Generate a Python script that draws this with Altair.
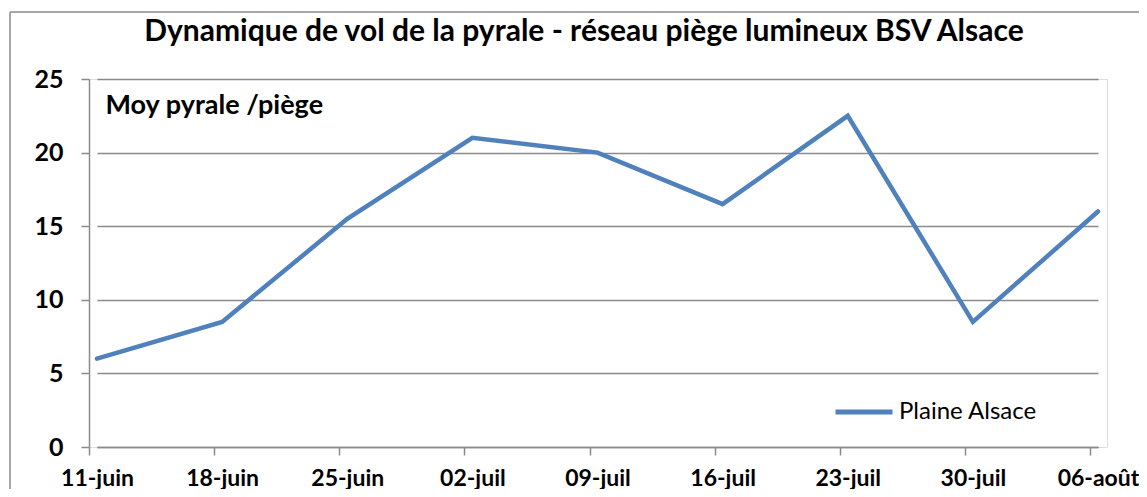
import altair as alt
import pandas as pd

dates = ["11-juin", "18-juin", "25-juin", "02-juil", "09-juil", "16-juil", "23-juil", "30-juil", "06-août"]
values = [6, 8.5, 15.5, 21, 20, 16.5, 22.5, 8.5, 16]
series_name = "Plaine Alsace"
y_ticks = [0, 5, 10, 15, 20, 25]
title_text = "Dynamique de vol de la pyrale - réseau piège lumineux BSV Alsace"
y_title = "Moy pyrale /piège"

df = pd.DataFrame({"date": dates, "value": values, "series": [series_name] * len(dates)})

W, H = 1018, 368
GRID = "#8a8a8a"
LINE = "#4F81BD"
FONT = "Lato"

frame_df = pd.DataFrame({"a": [0]})
border_top = alt.Chart(frame_df).mark_rule(color="#8a8a8a", strokeWidth=1.5, clip=False).encode(
    x=alt.value(-79), x2=alt.value(1100), y=alt.value(-67)
)
border_left = alt.Chart(frame_df).mark_rule(color="#8a8a8a", strokeWidth=1.5, clip=False).encode(
    x=alt.value(-79), y=alt.value(-67), y2=alt.value(500)
)

line = alt.Chart(df).mark_line(strokeWidth=4.5, strokeCap="round", strokeJoin="miter").encode(
    x=alt.X(
        "date:N", sort=dates,
        scale=alt.Scale(type="point", range=[8, 1009], padding=0),
        axis=alt.Axis(
            title=None, labelAngle=0, grid=False,
            domain=True, domainColor=GRID, domainWidth=1.5,
            ticks=True, tickColor=GRID, tickWidth=1.5, tickSize=8, tickOffset=-8,
            labelOffset=8, labelFont=FONT, labelFontSize=23, labelFontWeight="bold",
            labelColor="black", labelBaseline="alphabetic", labelPadding=30,
        ),
    ),
    y=alt.Y(
        "value:Q",
        scale=alt.Scale(domain=[0, 25], nice=False),
        axis=alt.Axis(
            values=y_ticks, grid=True, gridColor=GRID, gridWidth=1.5,
            domain=True, domainColor=GRID, domainWidth=1.5,
            ticks=True, tickColor=GRID, tickWidth=1.5, tickSize=8,
            labelFont=FONT, labelFontSize=25, labelFontWeight="bold",
            labelColor="black", labelPadding=18, labelAlign="right",
            title=y_title, titleAngle=0, titleAlign="left", titleBaseline="alphabetic",
            titleX=16, titleY=34, titleFont=FONT, titleFontSize=27,
            titleFontWeight="bold", titleColor="black",
        ),
    ),
    color=alt.Color(
        "series:N",
        scale=alt.Scale(range=[LINE]),
        legend=alt.Legend(
            title=None, orient="none", legendX=744, legendY=302,
            symbolType="stroke", symbolStrokeWidth=5, symbolSize=3249,
            labelFont=FONT, labelFontSize=24, labelColor="black", labelOffset=4,
            padding=0,
        ),
    ),
)

chart = alt.layer(border_top, border_left, line).properties(
    width=W, height=H,
    padding={"left": 81, "top": 71, "right": 32, "bottom": 42},
    autosize=alt.AutoSizeParams(type="none"),
    title=alt.TitleParams(
        text=title_text, font=FONT, fontSize=30, fontWeight="bold", color="black",
        anchor="middle", dx=-14, offset=-60, baseline="alphabetic",
    ),
).configure_view(strokeWidth=0).configure(background="white")

chart.save("out.html", embed_options={"renderer": "svg", "actions": False})
